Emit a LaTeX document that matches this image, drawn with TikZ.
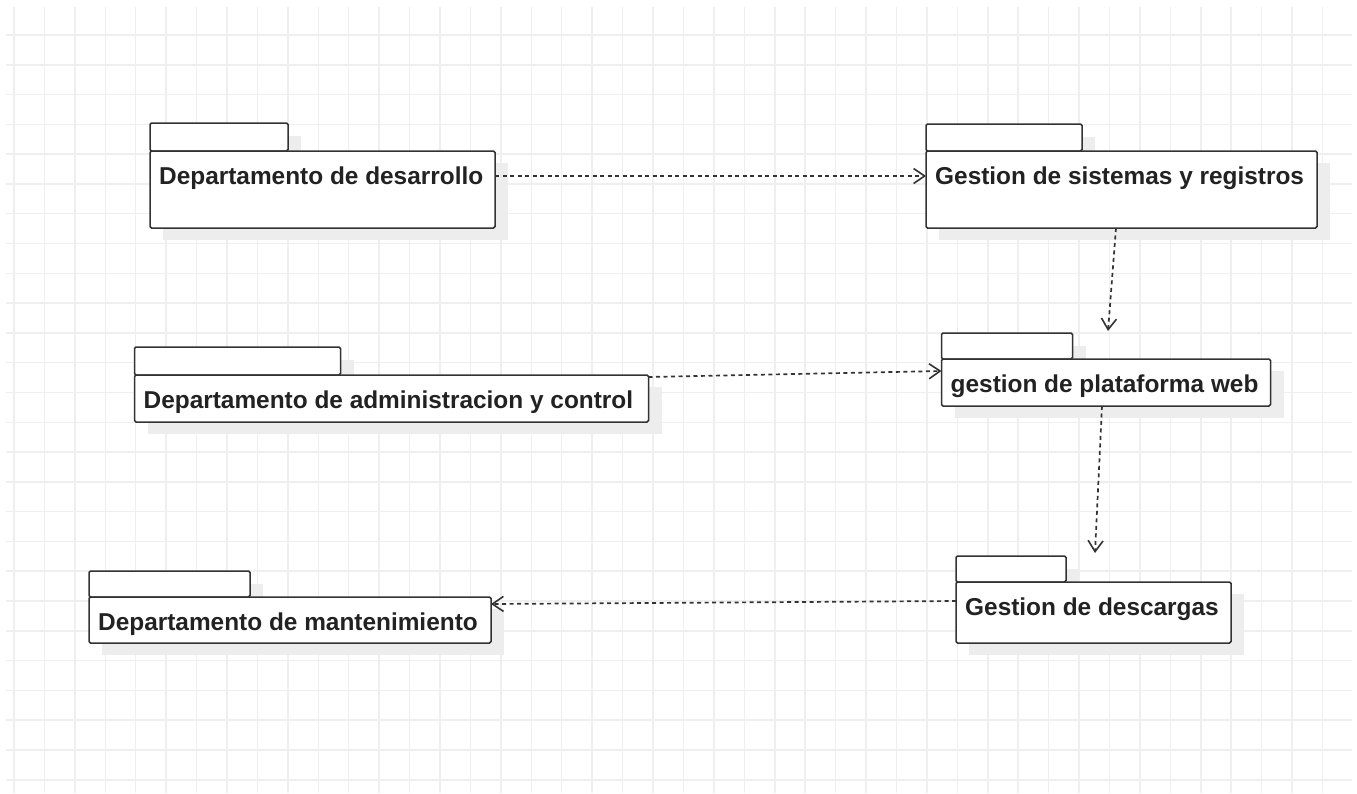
\documentclass[tikz,border=0pt]{standalone}
\usepackage{fontspec}
\setmainfont{Liberation Sans}
\usetikzlibrary{arrows.meta}
\definecolor{gridline}{HTML}{EFEFEF}
\definecolor{pkgshadow}{HTML}{EDEDED}
\definecolor{ink}{HTML}{333333}
\definecolor{txt}{HTML}{222222}
\tikzset{
  pkgline/.style={draw=ink, line width=1.5pt, fill=white, rounded corners=1.5pt},
  pkgbody/.style={pkgline, rectangle, inner sep=0pt, outer sep=0pt, anchor=north west},
  pkgtext/.style={inner sep=0pt, anchor=base west, text=txt,
                  font=\fontsize{24.4}{28}\selectfont\bfseries},
  dep/.style={draw=ink, line width=1.7pt, dash pattern=on 4pt off 3.5pt,
              -{Straight Barb[length=11pt,width=15pt,line width=1.6pt]}},
}
% package symbol: shadow, tab, body and name
% #1 name, #2 left, #3 tab top, #4 tab right, #5 body top, #6 right, #7 bottom, #8 label
\newcommand\pkgbox[8]{%
  \fill[pkgshadow] (#2+13,#3+13) rectangle (#4+13,#5+13);
  \fill[pkgshadow] (#2+13,#5+12) rectangle (#6+13,#7+12);
  \node[pkgbody, minimum width={(#4-#2)*1pt}, minimum height={(#5-#3)*1pt}]
    (#1tab) at (#2,#3) {};
  \node[pkgbody, minimum width={(#6-#2)*1pt}, minimum height={(#7-#5)*1pt}]
    (#1) at (#2,#5) {};
  \node[pkgtext] (#1t) at (#2+9,#5+33) {#8};
}
\begin{document}
\begin{tikzpicture}[x=1pt,y=-1pt]
\useasboundingbox (0,0) rectangle (1357,793);
\fill[white] (0,0) rectangle (1357,793);
% background grid
\foreach \i in {0,...,43}
  \draw[gridline, line width=1.5pt] ({14+30.43*\i},7) -- ({14+30.43*\i},793);
\foreach \j in {0,...,25}
  \draw[gridline, line width=1.5pt] (6,{35+29.79*\j}) -- (1352,{35+29.79*\j});

% packages
\pkgbox{dev}{150}{123}{288}{151}{495}{228}{Departamento de desarrollo}
\pkgbox{sis}{926}{124}{1082}{151}{1317}{228}{Gestion de sistemas y registros}
\pkgbox{adm}{134.5}{347}{340.5}{375}{648.5}{422}{Departamento de administracion y control}
\pkgbox{web}{941.5}{333}{1072.5}{359}{1270.5}{406}{gestion de plataforma web}
\pkgbox{man}{89}{571}{250}{597}{491}{643}{Departamento de mantenimiento}
\pkgbox{des}{956}{556}{1066}{582}{1231}{643}{Gestion de descargas}

% free ends of the dependencies pointing down
\coordinate (sisTip) at (1108,331);
\coordinate (webTip) at (1095,553);

% dependencies
\draw[dep] ([yshift=13.5pt]dev.east) -- ([yshift=13.5pt]sis.west);
\draw[dep] ([xshift=-5.5pt]sis.south) -- (sisTip);
\draw[dep] ([yshift=21.5pt]adm.east) -- ([yshift=11.5pt]web.west);
\draw[dep] ([xshift=-4pt]web.south) -- (webTip);
\draw[dep] ([yshift=11.5pt]des.west) -- ([yshift=16pt]man.east);
\end{tikzpicture}
\end{document}
